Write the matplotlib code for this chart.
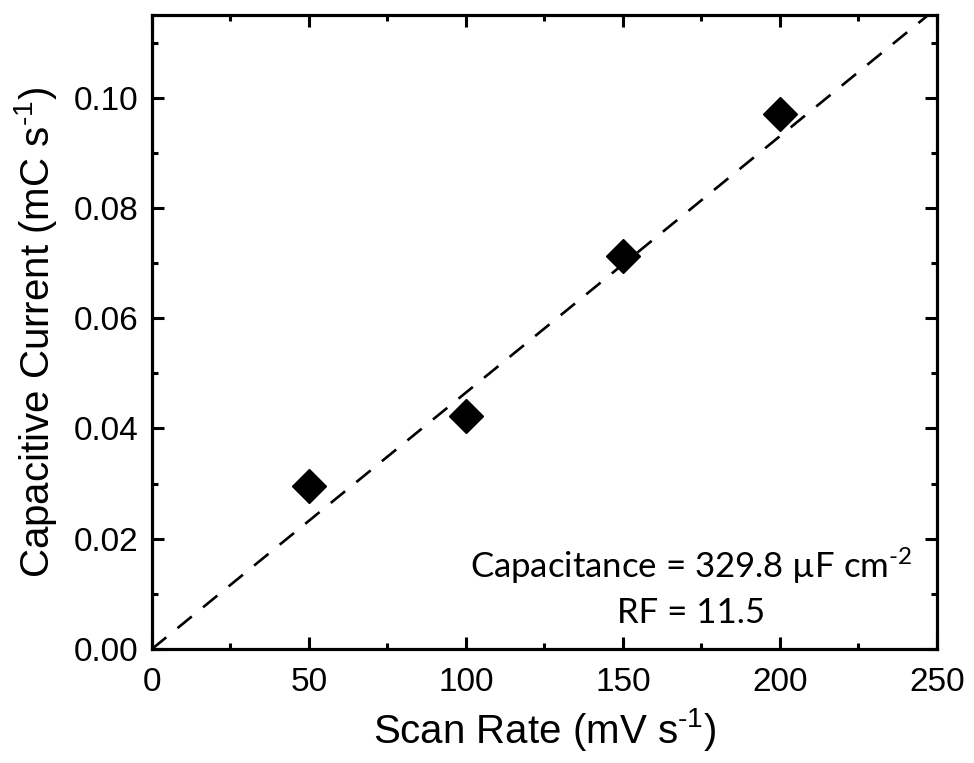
import matplotlib
matplotlib.use("Agg")
import matplotlib.pyplot as plt
from matplotlib.ticker import MultipleLocator

# measured points
scan_rate = [50, 100, 150, 200]              # mV s-1
cap_current = [0.0296, 0.0423, 0.0713, 0.0971]  # mC s-1

# linear fit line
fit_x = [0, 250]
fit_y = [0.0, 0.1163]

plt.rcParams["font.family"] = ["Liberation Sans", "DejaVu Sans"]
plt.rcParams["mathtext.default"] = "regular"

HYPH = "\u2010"  # plain hyphen in the superscripts, like the original

fig = plt.figure(figsize=(9.74, 7.63), dpi=100)
ax = fig.add_axes([0.156, 0.1494, 0.806, 0.8309])

ax.plot(fit_x, fit_y, color="black", linewidth=1.9, linestyle=(0, (7, 5.5)))
ax.plot(scan_rate, cap_current, linestyle="none", marker="D", markersize=17,
        color="black", markeredgewidth=1)

ax.set_xlim(0, 250)
ax.set_ylim(0, 0.115)
ax.xaxis.set_major_locator(MultipleLocator(50))
ax.xaxis.set_minor_locator(MultipleLocator(25))
ax.yaxis.set_major_locator(MultipleLocator(0.02))
ax.yaxis.set_minor_locator(MultipleLocator(0.01))
ax.yaxis.set_major_formatter(lambda v, pos: f"{v:.2f}")

ax.tick_params(which="both", direction="in", top=True, right=True, width=2.2)
ax.tick_params(which="major", length=8.5, labelsize=24)
ax.tick_params(axis="x", which="major", pad=13)
ax.tick_params(axis="y", which="major", pad=10)
ax.tick_params(which="minor", length=4.5)
for s in ax.spines.values():
    s.set_linewidth(2.3)

ax.set_xlabel(f"Scan Rate (mV s$^{{{HYPH}1}}$)", fontsize=29, labelpad=6)
ax.set_ylabel(f"Capacitive Current (mC s$^{{{HYPH}1}}$)", fontsize=29, labelpad=10)

ann_font = ["Lato", "DejaVu Sans"]
ax.text(0.687, 0.112, f"Capacitance = 329.8 µF cm$^{{{HYPH}2}}$", transform=ax.transAxes,
        ha="center", va="baseline", fontsize=25, family=ann_font)
ax.text(0.687, 0.041, "RF = 11.5", transform=ax.transAxes,
        ha="center", va="baseline", fontsize=25, family=ann_font)

fig.savefig("out.png", dpi=100)
